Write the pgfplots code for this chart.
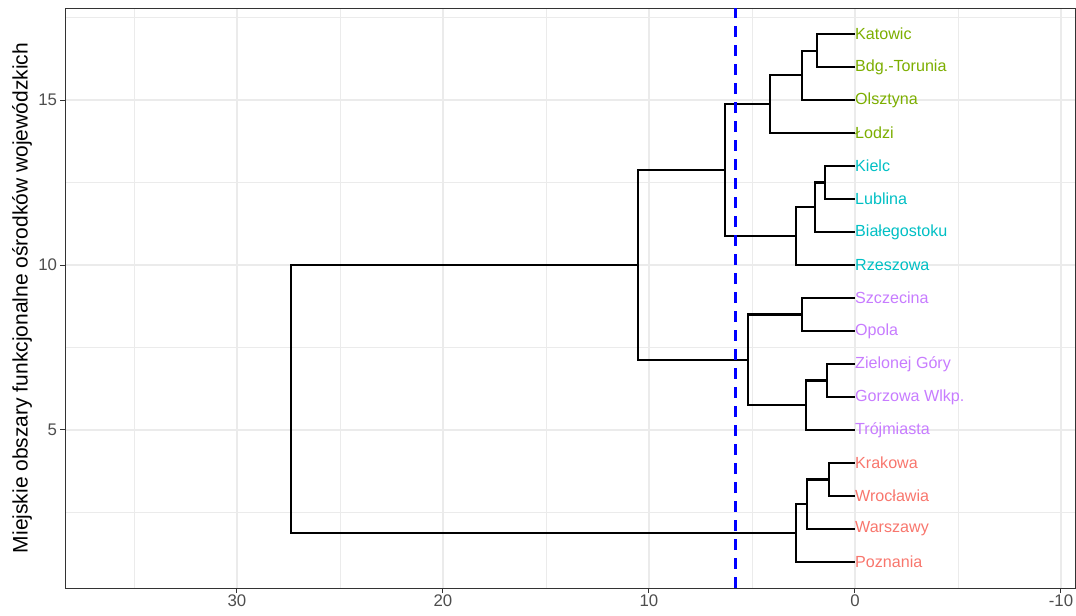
\documentclass[border=0pt]{standalone}
\usepackage{fontspec}
\setmainfont{Liberation Sans}
\usepackage{pgfplots}
\pgfplotsset{compat=1.18}
\definecolor{cgreen}{HTML}{7CAE00}
\definecolor{ccyan}{HTML}{00BFC4}
\definecolor{cpurple}{HTML}{C77CFF}
\definecolor{cred}{HTML}{F8766D}
\definecolor{gridc}{HTML}{EBEBEB}
\definecolor{tickc}{HTML}{4D4D4D}
\definecolor{framec}{HTML}{333333}
\begin{document}
\begin{tikzpicture}
\begin{axis}[
  scale only axis, width=1010pt, height=580pt,
  x dir=reverse,
  xmin=-10.68, xmax=38.35, ymin=0.21, ymax=17.79,
  xtick={30,20,10,0,-10}, ytick={5,10,15},
  minor xtick={35,25,15,5,-5}, minor ytick={2.5,7.5,12.5,17.5},
  xtick pos=bottom, ytick pos=left,
  grid=both,
  major grid style={gridc, line width=1.1pt},
  minor grid style={gridc, line width=0.55pt},
  axis line style={framec, line width=0.6pt},
  tick align=outside, major tick length=4.5pt, minor tick length=0pt,
  tick style={framec, line width=1pt},
  xticklabel style={font=\fontsize{16.8}{16.8}\selectfont, color=tickc, yshift=1pt},
  yticklabel style={font=\fontsize{16.8}{16.8}\selectfont, color=tickc},
  /pgf/number format/assume math mode=true,
  ylabel={Miejskie obszary funkcjonalne ośrodków wojewódzkich},
  ylabel style={font=\fontsize{21}{21}\selectfont, at={([xshift=-43pt]rel axis cs:0,0.5)}, anchor=center},
  clip=true,
  seg/.style={black, line width=2.1pt, line join=miter, mark=none},
]
\addplot[seg] coordinates {(0,17) (1.83,17) (1.83,16) (0,16)};
\addplot[seg] coordinates {(1.83,16.5) (2.58,16.5) (2.58,15) (0,15)};
\addplot[seg] coordinates {(2.58,15.75) (4.14,15.75) (4.14,14) (0,14)};
\addplot[seg] coordinates {(0,13) (1.44,13) (1.44,12) (0,12)};
\addplot[seg] coordinates {(1.44,12.5) (1.95,12.5) (1.95,11) (0,11)};
\addplot[seg] coordinates {(1.95,11.75) (2.86,11.75) (2.86,10) (0,10)};
\addplot[seg] coordinates {(4.14,14.875) (6.31,14.875) (6.31,10.875) (2.86,10.875)};
\addplot[seg] coordinates {(0,9) (2.58,9) (2.58,8) (0,8)};
\addplot[seg] coordinates {(0,7) (1.34,7) (1.34,6) (0,6)};
\addplot[seg] coordinates {(1.34,6.5) (2.39,6.5) (2.39,5) (0,5)};
\addplot[seg] coordinates {(2.58,8.5) (5.21,8.5) (5.21,5.75) (2.39,5.75)};
\addplot[seg] coordinates {(6.31,12.875) (10.53,12.875) (10.53,7.125) (5.21,7.125)};
\addplot[seg] coordinates {(0,4) (1.26,4) (1.26,3) (0,3)};
\addplot[seg] coordinates {(1.26,3.5) (2.31,3.5) (2.31,2) (0,2)};
\addplot[seg] coordinates {(2.31,2.75) (2.86,2.75) (2.86,1) (0,1)};
\addplot[seg] coordinates {(10.53,10) (27.38,10) (27.38,1.875) (2.86,1.875)};
\addplot[blue, mark=none, line width=3pt, dash pattern=on 11pt off 8pt] coordinates {(5.78,0.21) (5.78,17.79)};
\begin{scope}[every node/.style={anchor=west, inner sep=0pt, font=\fontsize{16.1}{16.1}\selectfont}]
\node[text=cgreen] at (axis cs:0,17) {Katowic};
\node[text=cgreen] at (axis cs:0,16) {Bdg.-Torunia};
\node[text=cgreen] at (axis cs:0,15) {Olsztyna};
\node[text=cgreen] at (axis cs:0,14) {Łodzi};
\node[text=ccyan] at (axis cs:0,13) {Kielc};
\node[text=ccyan] at (axis cs:0,12) {Lublina};
\node[text=ccyan] at (axis cs:0,11) {Białegostoku};
\node[text=ccyan] at (axis cs:0,10) {Rzeszowa};
\node[text=cpurple] at (axis cs:0,9) {Szczecina};
\node[text=cpurple] at (axis cs:0,8) {Opola};
\node[text=cpurple] at (axis cs:0,7) {Zielonej Góry};
\node[text=cpurple] at (axis cs:0,6) {Gorzowa Wlkp.};
\node[text=cpurple] at (axis cs:0,5) {Trójmiasta};
\node[text=cred] at (axis cs:0,4) {Krakowa};
\node[text=cred] at (axis cs:0,3) {Wrocławia};
\node[text=cred] at (axis cs:0,2) {Warszawy};
\node[text=cred] at (axis cs:0,1) {Poznania};
\end{scope}
\coordinate (bl) at (rel axis cs:0,0);
\coordinate (tr) at (rel axis cs:1,1);
\end{axis}
\pgfresetboundingbox
\useasboundingbox ([xshift=-65pt,yshift=-27pt]bl) rectangle ([xshift=1pt,yshift=8pt]tr);
\end{tikzpicture}
\end{document}
